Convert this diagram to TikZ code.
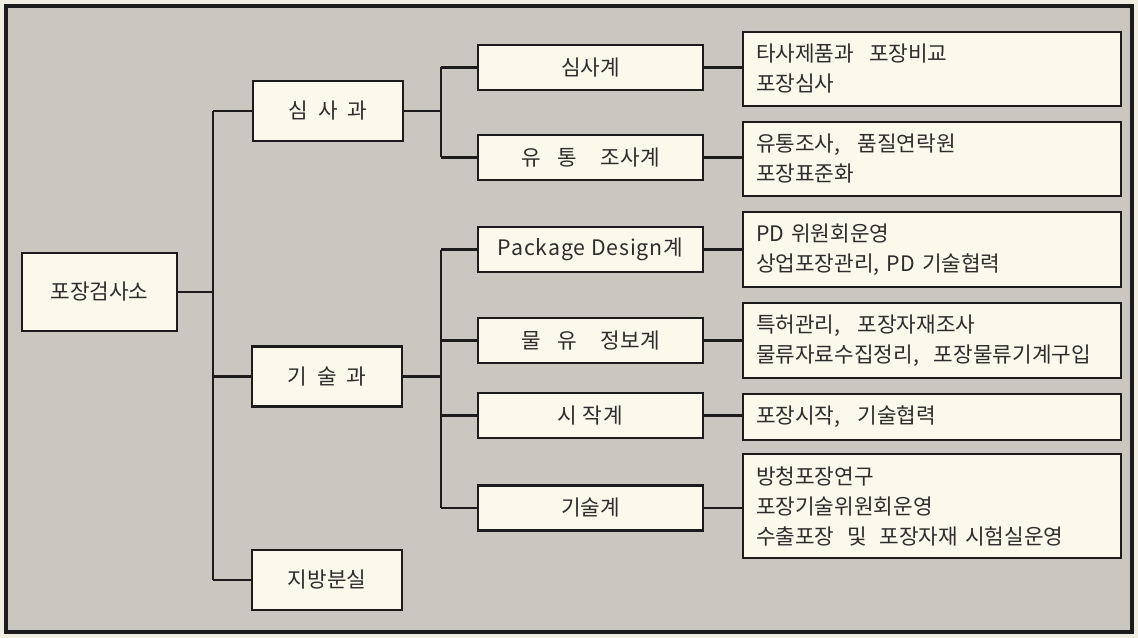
\documentclass[tikz,border=0pt]{standalone}
\usepackage{fontspec}
\setmainfont{Noto Sans CJK KR}
\definecolor{paper}{RGB}{240,237,226}
\definecolor{panel}{RGB}{201,199,192}
\definecolor{boxfill}{RGB}{251,249,236}
\definecolor{ink}{RGB}{28,28,28}
\definecolor{txt}{RGB}{45,45,45}
\newcommand\gp[1]{\hspace{#1em}}
\begin{document}
\begin{tikzpicture}[x=0.75pt,y=-0.75pt,
  every node/.style={font=\fontsize{16}{22.5}\selectfont, text=txt},
  box/.style={draw=ink, line width=1.9pt, fill=boxfill, inner sep=0pt, rectangle},
  lone/.style={box, minimum width=150*0.75pt, minimum height=60*0.75pt},
  ltwo/.style={box, minimum width=225*0.75pt, minimum height=45*0.75pt},
  lthree/.style={box, minimum width=378*0.75pt, align=left, text width=352*0.75pt},
  link/.style={draw=ink, line width=1.9pt}]
\fill[paper] (0,0) rectangle (1138,638);
\useasboundingbox (0,0) rectangle (1138,638);
\draw[fill=panel, draw=ink, line width=2.4pt] (6,6) rectangle (1132,632);

% root
\node[box, minimum width=155*0.75pt, minimum height=78*0.75pt] (root) at (99.5,292) {포장검사소};

% level 1
\node[lone] (s1) at (328,111) {심\gp{0.45}사\gp{0.45}과};
\node[lone] (s2) at (327,376.5) {기\gp{0.45}술\gp{0.45}과};
\node[lone] (s3) at (327,580) {지방분실};

% level 2
\node[ltwo] (a1) at (590.5,67.5) {심사계};
\node[ltwo] (a2) at (590.5,157.5) {유\gp{0.8}통\gp{1.1}조사계};
\node[ltwo] (b1) at (590.5,249.5) {\addfontfeatures{LetterSpace=4}Package Design계};
\node[ltwo] (b2) at (590.5,340.5) {물\gp{0.8}유\gp{1.1}정보계};
\node[ltwo] (b3) at (590.5,415.5) {시\gp{0.25}작\gp{0.05}계};
\node[ltwo] (b4) at (590.5,508) {기술계};

% level 3
\node[lthree, minimum height=74*0.75pt] (c1) at (932,69) {타사제품과\gp{0.7}포장비교\\포장심사};
\node[lthree, minimum height=74*0.75pt] (c2) at (932,159) {유통조사,\gp{0.8}품질연락원\\포장표준화};
\node[lthree, minimum height=75*0.75pt] (c3) at (932,249.5) {PD 위원회운영\\상업포장관리, PD 기술협력};
\node[lthree, minimum height=75*0.75pt] (c4) at (932,340.5) {특허관리,\gp{0.8}포장자재조사\\물류자료수집정리,\gp{0.7}포장물류기계구입};
\node[lthree, minimum height=46*0.75pt] (c5) at (932,417) {포장시작,\gp{0.8}기술협력};
\node[lthree, minimum height=104*0.75pt] (c6) at (932,506) {방청포장연구\\포장기술위원회운영\\수출포장\gp{0.6}및\gp{0.6}포장자재 시험실운영};

% trunks
\coordinate (t0) at (213,0);
\coordinate (t1) at (441,0);

\path[link] (root.east) -- (root.east -| t0);
\path[link] (t0 |- s1.west) -- (t0 |- s3.west);
\foreach \n in {s1,s2,s3} \path[link] (t0 |- \n.west) -- (\n.west);

\path[link] (s1.east) -- (s1.east -| t1);
\path[link] (t1 |- a1.west) -- (t1 |- a2.west);
\foreach \n in {a1,a2} \path[link] (t1 |- \n.west) -- (\n.west);

\path[link] (s2.east) -- (s2.east -| t1);
\path[link] (t1 |- b1.west) -- (t1 |- b4.west);
\foreach \n in {b1,b2,b3,b4} \path[link] (t1 |- \n.west) -- (\n.west);

\path[link] (a1.east) -- (a1.east -| c1.west);
\path[link] (a2.east) -- (a2.east -| c2.west);
\path[link] (b1.east) -- (b1.east -| c3.west);
\path[link] (b2.east) -- (b2.east -| c4.west);
\path[link] (b3.east) -- (b3.east -| c5.west);
\path[link] (b4.east) -- (b4.east -| c6.west);
\end{tikzpicture}
\end{document}
